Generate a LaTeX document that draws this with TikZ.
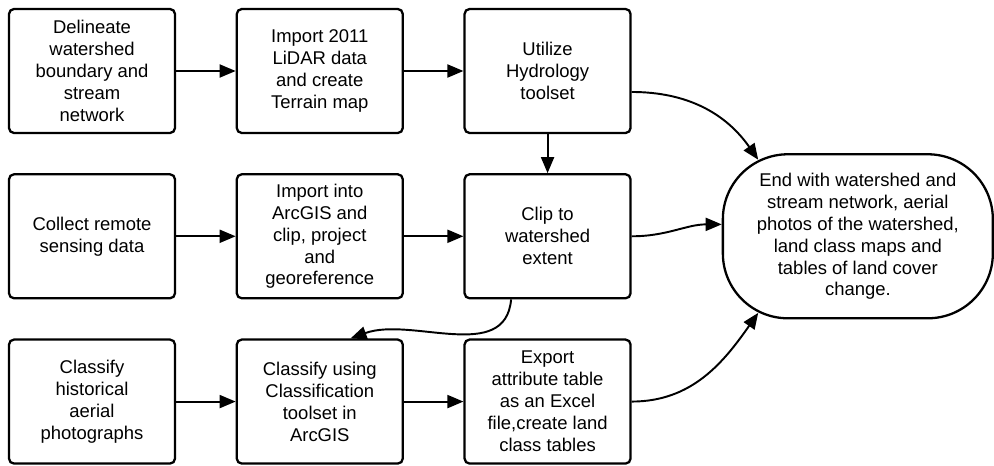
\documentclass[tikz,border=0pt]{standalone}
\usepackage{fontspec}
\setmainfont{Liberation Sans}
\usetikzlibrary{positioning,arrows.meta,calc}
\tikzstyle{flow steps}=[
    -{Triangle[length=3.2mm,width=2.6mm]}, line width=1.1pt,
    node distance=0.78cm and 1.19cm,
    every node/.style={font=\fontsize{10.5}{12.5}\selectfont, align=center},
    task box/.style={
        draw, line width=1.3pt, rounded corners=0.1cm,
        minimum width=3.32cm, minimum height=2.48cm, inner sep=0pt,
}]

\begin{document}
\begin{tikzpicture}[flow steps]
        \useasboundingbox (0,0) rectangle (19.88,-9.32);
        \node[task box] (s1) at (1.84,-1.42) {Delineate\\watershed\\boundary and\\stream\\network};
        \node[task box, right=of s1] (s2) {Import 2011\\LiDAR data\\and create\\Terrain map};
        \node[task box, right=of s2] (s3) {Utilize\\Hydrology\\toolset};
        \node[task box, below=of s1] (s4) {Collect remote\\sensing data};
        \node[task box, right=of s4] (s5) {Import into\\ArcGIS and\\clip, project\\and\\georeference};
        \node[task box, right=of s5] (s6) {Clip to\\watershed\\extent};
        \node[task box, below=of s4] (s7) {Classify\\historical\\aerial\\photographs};
        \node[task box, right=of s7] (s8) {Classify using\\Classification\\toolset in\\ArcGIS};
        \node[task box, right=of s8] (s9) {Export\\attribute table\\as an Excel\\file,create land\\class tables};
        \node[draw, line width=1.3pt, rounded corners=1.3cm,
            minimum width=5.4cm, minimum height=3.28cm, inner sep=0pt,
            right=1.8cm of s6] (fin)
            {End with watershed and\\stream network, aerial\\photos of the watershed,\\land class maps and\\tables of land cover\\change.};
        % points on the round corners of the end node
        \coordinate (fin top) at ($(fin.north west)+(1.3,-1.3)+(116:1.3)$);
        \coordinate (fin bottom) at ($(fin.south west)+(1.3,1.3)+(244:1.3)$);

        \path
            (s1) edge (s2)
            (s2) edge (s3)
            (s4) edge (s5)
            (s5) edge (s6)
            (s7) edge (s8)
            (s8) edge (s9)
            (s3) edge (s6)
            (s3.-14) edge[out=0, in=125] (fin top)
            (s6) edge[out=0, in=180] (fin.175)
            (s6.240) edge[out=-95, in=20] (s8.64)
            (s9) edge[out=0, in=-125] (fin bottom)
        ;
    \end{tikzpicture}
\end{document}
